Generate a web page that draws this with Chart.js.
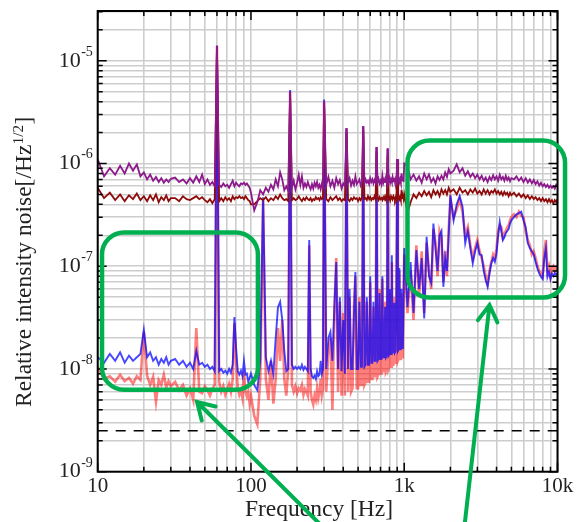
<!DOCTYPE html>
<html><head><meta charset="utf-8">
<script src="https://cdn.jsdelivr.net/npm/chart.js@4.4.1/dist/chart.umd.min.js"></script>
<style>html,body{margin:0;padding:0;background:#fff;overflow:hidden}canvas{display:block}</style>
</head><body>
<canvas id="c" width="577" height="522"></canvas>
<script>
// ---------- DATA ----------
const freqHz = [
 10,11,12,13,14,15,16,17,18,19,20,21,22,23,24,25,26,27,28,29,30,
 32,34,36,38,40,42,44,46,48,50,52,54,56,58,60,62,64,66,68,70,72,74,76,78,80,82,84,86,88,90,92,94,96,98,100,
 105,110,115,120,125,130,135,140,145,150,155,160,165,170,175,180,185,190,195,200,205,210,215,220,225,230,235,240,245,250,255,260,265,270,275,280,285,290,295,300,
 310,320,330,340,350,360,370,380,390,400,410,420,430,440,450,460,470,480,490,500,
 510,520,530,540,550,560,570,580,590,600,610,620,630,640,650,660,670,680,690,700,
 710,720,730,740,750,760,770,780,790,800,810,820,830,840,850,860,870,880,890,900,
 910,920,930,940,950,960,970,980,990,1000,
 1050,1100,1150,1200,1250,1300,1350,1400,1450,1500,1550,1600,1650,1700,1750,1800,1850,1900,1950,2000,
 2100,2200,2300,2400,2500,2600,2700,2800,2900,3000,3100,3200,3300,3400,3500,3600,3700,3800,3900,4000,
 4100,4200,4300,4400,4500,4600,4700,4800,4900,5000,
 5200,5400,5600,5800,6000,6200,6400,6600,6800,7000,7200,7400,7600,7800,8000,8200,8400,8600,8800,9000,
 9200,9400,9600,9800,10000
];

const purpleRIN = [
 1.1e-6,7.5e-7,9.0e-7,7.8e-7,9.5e-7,8.0e-7,1.0e-6,8.5e-7,9.8e-7,7.5e-7,8.2e-7,7.0e-7,7.8e-7,6.8e-7,7.4e-7,6.6e-7,7.2e-7,6.5e-7,7.0e-7,6.6e-7,7.1e-7,
 7.3e-7,6.6e-7,7.0e-7,6.4e-7,7.2e-7,6.5e-7,7.5e-7,6.6e-7,7.8e-7,6.3e-7,7.0e-7,6.2e-7,6.6e-7,6.0e-7,1.4e-5,6.2e-7,5.9e-7,6.4e-7,6.0e-7,6.2e-7,5.8e-7,6.3e-7,6.8e-7,6.0e-7,6.5e-7,6.2e-7,6.0e-7,6.4e-7,6.3e-7,6.5e-7,6.2e-7,6.4e-7,6.1e-7,5.8e-7,5.2e-7,
 3.5e-7,4.2e-7,5.5e-7,5.0e-7,5.8e-7,5.3e-7,6.2e-7,5.6e-7,7.0e-7,6.0e-7,8.2e-7,7.0e-7,5.5e-7,6.0e-7,5.4e-7,5.0e-6,5.8e-7,6.8e-7,5.6e-7,6.5e-7,7.8e-7,6.2e-7,7.5e-7,5.8e-7,6.4e-7,5.9e-7,6.6e-7,6.0e-7,5.6e-7,6.3e-7,5.7e-7,6.5e-7,6.0e-7,6.6e-7,5.8e-7,6.2e-7,5.6e-7,6.4e-7,6.0e-7,4.0e-6,
 6.2e-7,7.4e-7,6.0e-7,6.8e-7,5.8e-7,7.2e-7,6.3e-7,6.9e-7,5.7e-7,6.4e-7,6.0e-7,2.2e-6,6.5e-7,7.2e-7,6.1e-7,6.8e-7,6.2e-7,7.5e-7,6.3e-7,6.6e-7,
 7.0e-7,6.1e-7,6.6e-7,2.3e-6,6.4e-7,7.0e-7,6.5e-7,6.8e-7,6.3e-7,7.2e-7,6.6e-7,7.0e-7,6.4e-7,6.9e-7,6.5e-7,1.45e-6,6.6e-7,7.1e-7,6.4e-7,6.8e-7,
 6.3e-7,7.6e-7,6.5e-7,7.0e-7,6.6e-7,6.9e-7,6.4e-7,1.4e-6,6.7e-7,7.2e-7,6.5e-7,7.0e-7,6.6e-7,7.4e-7,6.8e-7,7.0e-7,6.5e-7,7.1e-7,6.7e-7,1.1e-6,
 6.8e-7,7.2e-7,6.6e-7,7.0e-7,6.5e-7,8.0e-7,6.9e-7,7.3e-7,6.6e-7,1.0e-6,
 9.5e-7,7.0e-7,7.8e-7,6.8e-7,7.5e-7,6.5e-7,8.0e-7,7.0e-7,7.8e-7,6.6e-7,7.2e-7,6.4e-7,7.5e-7,6.9e-7,7.6e-7,7.0e-7,8.2e-7,7.4e-7,8.8e-7,8.0e-7,
 8.5e-7,9.8e-7,8.2e-7,9.0e-7,7.6e-7,8.4e-7,7.4e-7,8.0e-7,7.2e-7,7.8e-7,7.0e-7,7.6e-7,6.8e-7,7.3e-7,6.6e-7,7.4e-7,6.9e-7,7.7e-7,7.0e-7,7.5e-7,
 6.8e-7,7.8e-7,7.0e-7,7.4e-7,6.8e-7,7.6e-7,6.9e-7,7.3e-7,6.7e-7,7.2e-7,
 7.0e-7,7.5e-7,6.8e-7,7.3e-7,6.6e-7,7.2e-7,6.5e-7,7.0e-7,6.4e-7,6.9e-7,6.3e-7,6.7e-7,6.1e-7,6.5e-7,6.0e-7,6.3e-7,5.9e-7,6.2e-7,5.8e-7,6.1e-7,
 5.8e-7,6.0e-7,5.7e-7,6.2e-7,6.0e-7
];

const maroonRIN = [
 5.8e-7,4.6e-7,5.2e-7,4.4e-7,5.0e-7,4.3e-7,4.9e-7,4.5e-7,5.1e-7,4.4e-7,4.8e-7,4.3e-7,4.9e-7,4.4e-7,5.0e-7,4.2e-7,4.7e-7,4.4e-7,4.9e-7,4.3e-7,4.6e-7,
 4.6e-7,4.3e-7,4.8e-7,4.5e-7,4.4e-7,4.6e-7,4.8e-7,4.5e-7,4.7e-7,4.4e-7,4.2e-7,4.5e-7,4.1e-7,4.5e-7,1.3e-5,4.3e-7,4.6e-7,4.3e-7,4.7e-7,4.4e-7,4.6e-7,4.3e-7,4.8e-7,4.5e-7,4.7e-7,4.6e-7,4.8e-7,4.6e-7,4.7e-7,4.5e-7,4.8e-7,4.6e-7,4.4e-7,4.3e-7,4.0e-7,
 4.0e-7,4.3e-7,4.6e-7,4.4e-7,4.7e-7,4.3e-7,4.6e-7,4.4e-7,4.8e-7,4.5e-7,5.0e-7,4.6e-7,4.4e-7,4.5e-7,4.3e-7,4.6e-6,4.4e-7,4.6e-7,4.4e-7,4.5e-7,4.8e-7,4.5e-7,4.3e-7,4.6e-7,4.4e-7,4.7e-7,4.5e-7,4.4e-7,4.6e-7,4.3e-7,4.5e-7,4.4e-7,4.7e-7,4.5e-7,4.6e-7,4.4e-7,4.7e-7,4.5e-7,4.6e-7,3.8e-6,
 4.5e-7,4.3e-7,4.7e-7,4.4e-7,4.6e-7,4.8e-7,4.4e-7,4.6e-7,4.3e-7,4.5e-7,4.4e-7,2.0e-6,4.5e-7,4.3e-7,4.6e-7,4.4e-7,4.7e-7,4.5e-7,4.6e-7,4.3e-7,
 4.6e-7,4.4e-7,4.7e-7,2.1e-6,4.5e-7,4.6e-7,4.4e-7,4.8e-7,4.5e-7,4.7e-7,4.4e-7,4.6e-7,4.5e-7,4.8e-7,4.5e-7,1.3e-6,4.6e-7,4.4e-7,4.7e-7,4.5e-7,
 4.6e-7,4.4e-7,4.7e-7,4.5e-7,4.8e-7,4.5e-7,4.6e-7,1.2e-6,4.5e-7,4.7e-7,4.4e-7,4.8e-7,4.6e-7,4.5e-7,4.8e-7,4.6e-7,4.4e-7,4.7e-7,4.5e-7,1.0e-6,
 4.6e-7,4.8e-7,4.5e-7,4.7e-7,4.4e-7,5.5e-7,4.6e-7,4.8e-7,4.5e-7,5.0e-7,
 3.3e-7,4.2e-7,5.0e-7,4.6e-7,5.2e-7,4.8e-7,5.4e-7,4.9e-7,5.3e-7,4.7e-7,5.5e-7,5.0e-7,5.4e-7,4.8e-7,5.6e-7,5.1e-7,5.5e-7,5.0e-7,5.8e-7,5.3e-7,
 5.6e-7,5.0e-7,5.8e-7,5.2e-7,5.5e-7,5.0e-7,5.6e-7,5.2e-7,5.7e-7,5.1e-7,5.4e-7,5.0e-7,5.6e-7,5.1e-7,5.5e-7,5.0e-7,5.4e-7,5.2e-7,5.6e-7,5.1e-7,
 5.4e-7,5.0e-7,5.3e-7,4.9e-7,5.3e-7,5.0e-7,5.2e-7,4.8e-7,5.2e-7,4.9e-7,
 5.2e-7,4.8e-7,5.1e-7,4.7e-7,5.0e-7,4.6e-7,4.9e-7,4.5e-7,4.8e-7,4.5e-7,4.7e-7,4.4e-7,4.6e-7,4.3e-7,4.6e-7,4.3e-7,4.5e-7,4.2e-7,4.5e-7,4.2e-7,
 4.4e-7,4.1e-7,4.4e-7,4.2e-7,4.5e-7
];

const blueRIN = [
 1.3e-8,1.15e-8,1.4e-8,1.2e-8,1.45e-8,1.15e-8,1.35e-8,1.2e-8,1.3e-8,1.4e-8,2.4e-8,1.3e-8,1.45e-8,1.2e-8,1.3e-8,1.1e-8,1.25e-8,1.15e-8,1.3e-8,1.1e-8,1.2e-8,
 1.25e-8,1.1e-8,1.2e-8,1.05e-8,1.15e-8,1.0e-8,1.5e-8,1.1e-8,1.15e-8,1.05e-8,1.1e-8,1.0e-8,1.05e-8,9.5e-9,1.4e-5,9.5e-9,1.0e-8,9.2e-9,9.6e-9,9.0e-9,1.0e-8,9.2e-9,1.1e-8,3.2e-8,1.6e-8,9.5e-9,8.8e-9,9.6e-9,8.5e-9,1.2e-8,8.8e-9,9.0e-9,7.5e-9,8.2e-9,9.0e-9,
 7.0e-9,6.2e-9,1.2e-8,4.7e-7,1.3e-8,9.5e-9,1.2e-8,9.0e-9,2.0e-8,4.0e-8,4.5e-8,3.0e-8,1.5e-8,9.5e-9,1.0e-8,5.2e-6,1.1e-8,1.0e-8,1.05e-8,1.0e-8,1.05e-8,1.0e-8,1.1e-8,9.8e-9,1.05e-8,1.0e-8,9.5e-9,1.8e-7,1.0e-8,8.5e-9,8.2e-9,8.6e-9,8.0e-9,9.5e-9,8.5e-9,8.8e-9,1.2e-8,9.0e-9,1.0e-8,4.2e-6,
 1.0e-8,2.0e-8,2.3e-8,1.2e-8,4.0e-8,1.1e-7,1.0e-8,5.0e-8,9.5e-9,3.0e-8,9.0e-9,2.2e-6,1.0e-8,6.0e-8,1.0e-8,1.0e-8,3.5e-8,8.8e-8,1.0e-8,1.0e-8,
 4.5e-8,1.05e-8,1.05e-8,2.3e-6,1.05e-8,1.1e-8,5.0e-8,1.1e-8,1.1e-8,8.0e-8,1.15e-8,1.15e-8,4.5e-8,1.2e-8,1.2e-8,1.45e-6,1.2e-8,1.25e-8,5.5e-8,1.25e-8,
 1.25e-8,8.0e-8,1.3e-8,1.3e-8,4.0e-8,1.3e-8,1.35e-8,1.4e-6,1.35e-8,1.4e-8,6.0e-8,1.4e-8,1.28e-7,1.45e-8,1.45e-8,4.4e-8,1.45e-8,1.5e-8,7.0e-8,1.1e-6,
 1.5e-8,1.55e-8,9.6e-8,1.55e-8,1.6e-8,6.0e-8,1.6e-8,1.65e-8,4.5e-8,1.5e-7,
 4.0e-8,1.1e-7,3.5e-8,1.44e-7,6.0e-8,1.2e-7,3.1e-8,1.93e-7,8.0e-8,6.9e-8,2.6e-7,1.5e-7,9.0e-8,2.0e-7,2.2e-7,6.3e-8,1.2e-7,9.0e-8,2.0e-7,4.9e-7,
 2.8e-7,4.0e-7,4.8e-7,3.8e-7,1.67e-7,2.2e-7,1.5e-7,1.07e-7,1.4e-7,1.67e-7,1.3e-7,1.28e-7,9.0e-8,7.3e-8,6.3e-8,8.5e-8,1.07e-7,1.2e-7,1.1e-7,1.33e-7,
 2.0e-7,2.7e-7,2.2e-7,1.8e-7,1.9e-7,2.1e-7,2.2e-7,2.3e-7,2.6e-7,2.8e-7,
 3.0e-7,3.2e-7,3.3e-7,3.4e-7,2.8e-7,2.4e-7,1.67e-7,1.5e-7,1.4e-7,1.3e-7,1.1e-7,9.5e-8,8.5e-8,7.9e-8,7.5e-8,1.2e-7,1.5e-7,7.9e-8,8.8e-8,7.5e-8,
 8.5e-8,8.0e-8,8.6e-8,8.3e-8,8.5e-8
];

const redRIN = [
 1.05e-8,8.0e-9,8.5e-9,7.5e-9,8.8e-9,7.6e-9,8.2e-9,7.2e-9,8.5e-9,7.8e-9,2.3e-8,8.6e-9,7.0e-9,8.4e-9,4.8e-9,7.8e-9,7.0e-9,8.8e-9,6.6e-9,7.6e-9,6.8e-9,
 7.5e-9,6.2e-9,7.0e-9,5.5e-9,6.5e-9,5.0e-9,2.5e-8,6.0e-9,5.8e-9,6.8e-9,6.2e-9,5.5e-9,6.4e-9,7.0e-9,1.4e-5,7.5e-9,6.0e-9,6.8e-9,5.6e-9,6.4e-9,7.2e-9,6.0e-9,8.0e-9,2.8e-8,1.2e-8,6.5e-9,5.6e-9,6.2e-9,5.2e-9,9.5e-9,6.0e-9,5.4e-9,6.0e-9,4.6e-9,5.5e-9,
 3.5e-9,2.9e-9,8.0e-9,4.5e-7,8.0e-9,5.0e-9,1.2e-8,4.6e-9,8.0e-9,2.5e-8,1.2e-8,3.0e-8,8.0e-9,5.5e-9,1.0e-8,5.0e-6,7.0e-9,6.0e-9,6.8e-9,5.8e-9,6.5e-9,6.2e-9,7.0e-9,5.6e-9,6.4e-9,6.0e-9,5.5e-9,1.6e-7,6.0e-9,5.0e-9,4.5e-9,5.5e-9,5.0e-9,6.5e-9,5.2e-9,6.0e-9,8.0e-9,5.6e-9,6.5e-9,4.0e-6,
 6.0e-9,1.5e-8,2.0e-8,4.0e-9,3.5e-8,1.2e-7,6.0e-9,4.5e-8,5.5e-9,3.5e-8,5.5e-9,2.2e-6,6.0e-9,5.0e-8,6.0e-9,6.5e-9,4.0e-8,8.0e-8,6.5e-9,6.5e-9,
 5.0e-8,7.0e-9,7.0e-9,2.3e-6,7.0e-9,7.5e-9,4.5e-8,7.5e-9,7.5e-9,7.0e-8,8.0e-9,8.0e-9,4.0e-8,8.5e-9,8.5e-9,1.45e-6,8.5e-9,9.0e-9,6.0e-8,9.0e-9,
 9.0e-9,7.5e-8,9.5e-9,9.5e-9,4.5e-8,9.5e-9,1.0e-8,1.4e-6,1.0e-8,1.05e-8,5.5e-8,1.05e-8,1.1e-7,1.1e-8,1.1e-8,5.0e-8,1.15e-8,1.15e-8,6.5e-8,1.1e-6,
 1.2e-8,1.25e-8,9.0e-8,1.25e-8,1.3e-8,5.5e-8,1.3e-8,1.35e-8,5.0e-8,1.3e-7,
 3.5e-8,9.0e-8,3.0e-8,1.6e-7,5.0e-8,1.4e-7,3.5e-8,1.7e-7,9.0e-8,6.0e-8,2.3e-7,1.7e-7,8.0e-8,2.2e-7,1.9e-7,7.0e-8,1.4e-7,8.0e-8,2.3e-7,4.5e-7,
 3.0e-7,3.6e-7,4.5e-7,3.4e-7,2.0e-7,2.4e-7,1.6e-7,1.2e-7,1.5e-7,1.8e-7,1.4e-7,1.2e-7,1.0e-7,8.0e-8,6.8e-8,9.0e-8,1.1e-7,1.3e-7,1.2e-7,1.5e-7,
 2.2e-7,2.5e-7,2.4e-7,1.9e-7,2.1e-7,2.2e-7,2.4e-7,2.5e-7,2.8e-7,3.0e-7,
 3.2e-7,3.0e-7,3.4e-7,3.1e-7,3.0e-7,2.2e-7,1.8e-7,1.6e-7,1.3e-7,1.4e-7,1.2e-7,1.0e-7,9.0e-8,8.5e-8,8.0e-8,1.4e-7,1.8e-7,9.0e-8,1.0e-7,8.0e-8,
 9.5e-8,1.0e-7,9.0e-8,9.5e-8,1.0e-7
];

const floorFreqHz = [10, 10000];
const floorRIN = [2.5e-9, 2.5e-9];

const xGridTicks = [10,20,30,40,50,60,70,80,90,100,200,300,400,500,600,700,800,900,1000,2000,3000,4000,5000,6000,7000,8000,9000,10000];
const xTickLabels = {10:'10', 100:'100', 1000:'1k', 10000:'10k'};
const yGridTicks = [1e-9,2e-9,3e-9,4e-9,5e-9,6e-9,7e-9,8e-9,9e-9,
  1e-8,2e-8,3e-8,4e-8,5e-8,6e-8,7e-8,8e-8,9e-8,
  1e-7,2e-7,3e-7,4e-7,5e-7,6e-7,7e-7,8e-7,9e-7,
  1e-6,2e-6,3e-6,4e-6,5e-6,6e-6,7e-6,8e-6,9e-6,
  1e-5,2e-5,3e-5];

// annotation shapes in data units (frequency, RIN)
const highlightBoxes = [
  {fMin: 10.67, fMax: 111, vMin: 6.28e-9, vMax: 2.13e-7},
  {fMin: 1050, fMax: 11200, vMin: 4.96e-8, vMax: 1.67e-6}
];
const pointerArrows = [
  {fromF: 327, fromV: 2.48e-10, toF: 44.5, toV: 4.77e-9},
  {fromF: 2440, fromV: 2.48e-10, toF: 3600, toV: 4.19e-8}
];

// ---------- CHART ----------
const FONT = '"Liberation Serif","Times New Roman",serif';
const isPow10 = v => Math.abs(Math.log10(v) - Math.round(Math.log10(v))) < 1e-6;
const pts = vals => freqHz.map((f, i) => ({x: f, y: vals[i]}));

const decor = {
  id: 'decor',
  beforeDraw(chart) {
    const c = chart.ctx; c.save(); c.fillStyle = '#fff'; c.fillRect(0, 0, chart.width, chart.height); c.restore();
  },
  afterDatasetsDraw(chart) {
    const {ctx, chartArea: a, scales: {x, y}} = chart;
    ctx.save();
    ctx.strokeStyle = '#000';
    ctx.lineWidth = 1.5;
    ctx.beginPath();
    xGridTicks.forEach(v => {
      const px = x.getPixelForValue(v);
      const L = isPow10(v) ? 9 : 5;
      ctx.moveTo(px, a.bottom); ctx.lineTo(px, a.bottom - L);
      ctx.moveTo(px, a.top); ctx.lineTo(px, a.top + L);
    });
    yGridTicks.forEach(v => {
      const py = y.getPixelForValue(v);
      const L = isPow10(v) ? 9 : 5;
      ctx.moveTo(a.left, py); ctx.lineTo(a.left + L, py);
      ctx.moveTo(a.right, py); ctx.lineTo(a.right - L, py);
    });
    ctx.stroke();
    ctx.lineWidth = 2;
    ctx.strokeRect(a.left, a.top, a.right - a.left, a.bottom - a.top);
    ctx.restore();
  },
  afterDraw(chart) {
    const {ctx, chartArea: a, scales: {x, y}} = chart;
    ctx.save();
    ctx.fillStyle = '#222';
    ctx.font = '14px ' + FONT;
    ctx.textAlign = 'left';
    ctx.textBaseline = 'alphabetic';
    yGridTicks.filter(isPow10).forEach(v => {
      const py = y.getPixelForValue(v);
      ctx.fillText(String(Math.round(Math.log10(v))), a.left - 17 + 0.5, py - 5);
    });
    ctx.font = '23.5px ' + FONT;
    ctx.textAlign = 'center';
    ctx.fillText('Frequency [Hz]', 319, 516);
    ctx.save();
    ctx.translate(31, 407);
    ctx.rotate(-Math.PI / 2);
    ctx.textAlign = 'left';
    const main = 'Relative intensity noise[/Hz';
    ctx.font = '23.5px ' + FONT;
    ctx.fillText(main, 0, 0);
    const w1 = ctx.measureText(main).width;
    ctx.font = '15px ' + FONT;
    ctx.fillText('1/2', w1 + 0.5, -8);
    const w2 = ctx.measureText('1/2').width;
    ctx.font = '23.5px ' + FONT;
    ctx.fillText(']', w1 + w2 + 1, 0);
    ctx.restore();
    ctx.strokeStyle = '#00b050';
    ctx.lineWidth = 4.5;
    ctx.lineCap = 'round';
    highlightBoxes.forEach(b => {
      const l = x.getPixelForValue(b.fMin), r = x.getPixelForValue(b.fMax);
      const t = y.getPixelForValue(b.vMax), btm = y.getPixelForValue(b.vMin);
      const rad = 22;
      ctx.beginPath();
      ctx.moveTo(l + rad, t);
      ctx.arcTo(r, t, r, btm, rad);
      ctx.arcTo(r, btm, l, btm, rad);
      ctx.arcTo(l, btm, l, t, rad);
      ctx.arcTo(l, t, r, t, rad);
      ctx.closePath();
      ctx.stroke();
    });
    ctx.lineWidth = 4;
    pointerArrows.forEach(ar => {
      const x0 = x.getPixelForValue(ar.fromF), y0 = y.getPixelForValue(ar.fromV);
      const x1 = x.getPixelForValue(ar.toF), y1 = y.getPixelForValue(ar.toV);
      const ang = Math.atan2(y0 - y1, x0 - x1);
      const hl = 19, spread = 0.54;
      ctx.beginPath();
      ctx.moveTo(x0, y0); ctx.lineTo(x1, y1);
      ctx.moveTo(x1 + hl * Math.cos(ang - spread), y1 + hl * Math.sin(ang - spread));
      ctx.lineTo(x1, y1);
      ctx.lineTo(x1 + hl * Math.cos(ang + spread), y1 + hl * Math.sin(ang + spread));
      ctx.stroke();
    });
    ctx.restore();
  }
};

new Chart(document.getElementById('c'), {
  type: 'line',
  data: {
    datasets: [
      {label: 'Purple trace', data: pts(purpleRIN), borderColor: '#8c1a8c', borderWidth: 1.8},
      {label: 'Dark red trace', data: pts(maroonRIN), borderColor: '#8f0a0a', borderWidth: 1.8},
      {label: 'Blue trace', data: pts(blueRIN), borderColor: 'rgba(0,0,255,0.72)', borderWidth: 1.9},
      {label: 'Red trace', data: pts(redRIN), borderColor: 'rgba(255,0,0,0.5)', borderWidth: 2.6},
      {label: 'Floor', data: floorFreqHz.map((f, i) => ({x: f, y: floorRIN[i]})), borderColor: '#000', borderWidth: 1.5, borderDash: [10, 8]}
    ]
  },
  options: {
    responsive: false,
    animation: false,
    devicePixelRatio: 1,
    elements: {point: {radius: 0}, line: {tension: 0, fill: false}},
    layout: {padding: {left: 0, right: 19.5, top: 11, bottom: 0}},
    plugins: {legend: {display: false}, tooltip: {enabled: false}},
    scales: {
      x: {
        type: 'logarithmic', min: 10, max: 10000,
        afterBuildTicks: s => { s.ticks = xGridTicks.map(v => ({value: v})); },
        afterFit: s => { s.height = 50.3; s.paddingLeft = 0; s.paddingRight = 0; },
        grid: {color: '#cdcdcd', lineWidth: 1.6, drawTicks: false},
        border: {display: false},
        ticks: {autoSkip: false, maxRotation: 0, minRotation: 0, padding: 2, color: '#222',
          font: {family: FONT, size: 21},
          callback: v => xTickLabels[v] ?? ''}
      },
      y: {
        type: 'logarithmic', min: 1e-9, max: 3.05e-5,
        afterBuildTicks: s => { s.ticks = yGridTicks.map(v => ({value: v})); },
        afterFit: s => { s.width = 97.7; s.paddingTop = 0; s.paddingBottom = 0; },
        grid: {color: '#cdcdcd', lineWidth: 1.6, drawTicks: false},
        border: {display: false},
        ticks: {autoSkip: false, padding: 17, color: '#222',
          font: {family: FONT, size: 22},
          callback: v => isPow10(v) ? '10' : ''}
      }
    }
  },
  plugins: [decor]
});
</script>
</body></html>
